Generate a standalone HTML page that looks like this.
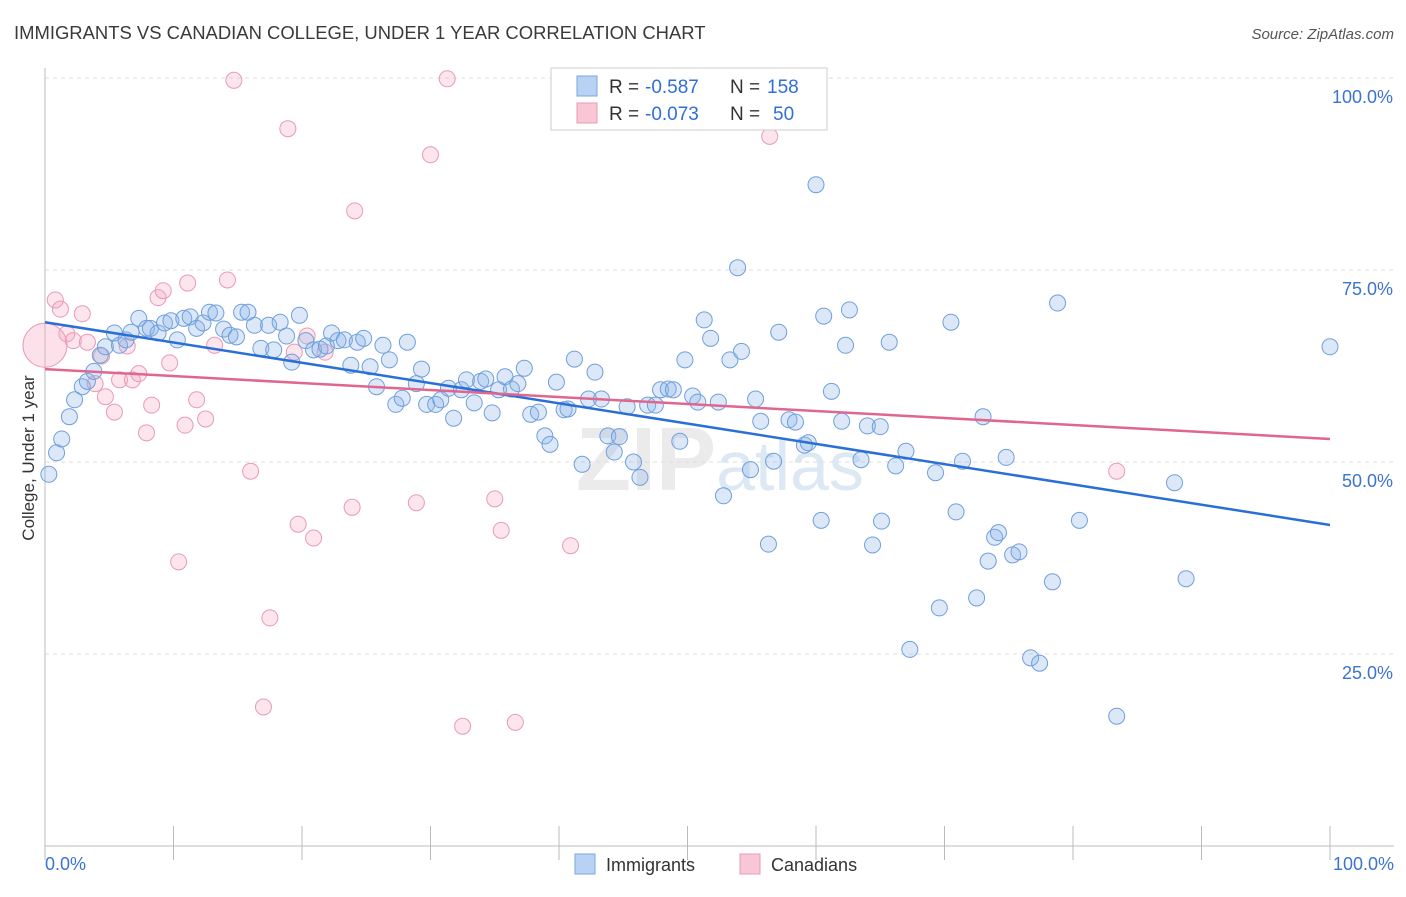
<!DOCTYPE html>
<html><head><meta charset="utf-8"><style>
body{margin:0;background:#fff;font-family:"Liberation Sans",sans-serif}
svg text{font-family:"Liberation Sans",sans-serif}
</style></head><body>
<svg id="c" width="1406" height="892">
<text x="14" y="39" font-size="18.45" fill="#3a3a3a">IMMIGRANTS VS CANADIAN COLLEGE, UNDER 1 YEAR CORRELATION CHART</text>
<text x="1394" y="39" font-size="15" fill="#555" text-anchor="end" font-style="italic">Source: ZipAtlas.com</text>
<text x="34" y="458" font-size="17" fill="#333" text-anchor="middle" transform="rotate(-90 34 458)">College, Under 1 year</text>
<text x="720" y="490" font-size="90" fill="#ebebeb" text-anchor="middle" font-weight="bold" font-family="Liberation Serif">ZIP<tspan fill="#dde8f5" font-family="Liberation Sans" font-weight="normal" font-size="70">atlas</tspan></text>
<g id="grid"></g><g id="pts"></g><g id="lines"></g>
<g>
<rect x="551" y="68" width="276" height="62" fill="#fff" stroke="#ccc"/>
<rect x="577" y="76" width="20" height="20" fill="#b9d2f3" stroke="#7aa6df"/>
<rect x="577" y="103" width="20" height="20" fill="#f9c6d6" stroke="#e99ab5"/>
<text x="609" y="93" font-size="19" fill="#333">R =</text>
<text x="645" y="93" font-size="19" fill="#2f6fd6">-0.587</text>
<text x="730" y="93" font-size="19" fill="#333">N =</text>
<text x="767" y="93" font-size="19" fill="#2f6fd6">158</text>
<text x="609" y="120" font-size="19" fill="#333">R =</text>
<text x="645" y="120" font-size="19" fill="#2f6fd6">-0.073</text>
<text x="730" y="120" font-size="19" fill="#333">N =</text>
<text x="773" y="120" font-size="19" fill="#2f6fd6">50</text>
</g>
<g>
<rect x="575" y="854" width="20" height="20" fill="#b9d2f3" stroke="#7aa6df"/>
<text x="606" y="871" font-size="18" fill="#333">Immigrants</text>
<rect x="740" y="854" width="20" height="20" fill="#f9c6d6" stroke="#e99ab5"/>
<text x="771" y="871" font-size="18" fill="#333">Canadians</text>
</g>
<text x="45" y="870" font-size="18" fill="#3b74d0">0.0%</text>
<text x="1394" y="870" font-size="18" fill="#3b74d0" text-anchor="end">100.0%</text>
</svg>
<script>
const yTicks=[100,75,50,25];
const yTickLabels=["100.0%","75.0%","50.0%","25.0%"];
const xTicks=[0,10,20,30,40,50,60,70,80,90,100];
const blueX=[0.3,0.9,1.3,1.9,2.3,2.9,3.3,3.8,4.3,4.7,5.4,5.8,6.3,6.7,7.3,7.9,8.2,8.8,9.3,9.8,10.3,10.8,11.3,11.8,12.3,12.8,13.3,13.9,14.4,14.9,15.3,15.8,16.3,16.8,17.4,17.8,18.3,18.8,19.2,19.8,20.3,20.9,21.4,21.9,22.3,22.8,23.3,23.8,24.3,24.8,25.3,25.8,26.3,26.8,27.3,27.8,28.2,28.9,29.3,29.7,30.4,30.8,31.4,31.8,32.4,32.8,33.4,33.9,34.3,34.8,35.3,35.8,36.3,36.8,37.3,37.8,38.4,38.9,39.3,39.8,40.4,40.7,41.2,41.8,42.3,42.8,43.3,43.8,44.3,44.7,45.3,45.8,46.3,46.9,47.5,47.9,48.5,48.9,49.4,49.8,50.4,50.8,51.3,51.8,52.4,52.8,53.3,53.9,54.2,54.9,55.3,55.7,56.3,56.7,57.1,57.9,58.4,59.1,59.4,60.0,60.4,60.6,61.2,62.0,62.3,62.6,63.5,64.0,64.4,65.0,65.1,65.7,66.2,67.0,67.3,69.3,69.6,70.5,70.9,71.4,72.5,73.0,73.4,73.9,74.2,74.8,75.3,75.8,76.7,77.4,78.4,78.8,80.5,83.4,87.9,88.8,100];
const blueY=[48.4,51.2,53.0,55.9,58.1,59.8,60.5,61.8,63.9,65.0,66.8,65.2,65.9,66.9,68.7,67.4,67.4,66.8,68.1,68.4,65.9,68.7,68.9,67.4,68.1,69.5,69.4,67.3,66.5,66.3,69.5,69.5,67.8,64.8,67.8,64.6,68.2,66.4,63.0,69.1,65.8,64.6,64.7,65.1,66.8,65.8,65.9,62.6,65.6,66.1,62.4,59.8,65.2,63.3,57.5,58.3,65.6,60.2,62.1,57.5,57.5,58.1,59.6,55.7,59.4,60.7,57.7,60.5,60.8,56.4,59.4,61.1,59.5,60.2,62.2,56.2,56.5,53.4,52.3,60.4,56.8,56.9,63.4,49.7,58.2,61.7,58.2,53.4,51.3,53.3,57.2,50.0,48.0,57.4,57.4,59.4,59.5,59.4,52.7,63.3,58.6,57.8,68.5,66.1,57.8,45.6,63.3,75.3,64.4,49.0,58.2,55.3,39.3,50.1,66.9,55.5,55.2,52.2,52.5,86.1,42.4,69.0,59.2,55.3,65.2,69.8,50.3,54.7,39.2,54.6,42.3,65.6,49.5,51.4,25.6,48.6,31.0,68.2,43.5,50.1,32.3,55.9,37.1,40.2,40.8,50.6,37.9,38.3,24.5,23.8,34.4,70.7,42.4,16.9,47.3,34.8,65.0];
const pinkX=[0.8,1.2,1.7,2.2,2.9,3.3,3.9,4.4,4.7,5.4,5.8,6.4,6.8,7.3,7.9,8.3,8.8,9.2,9.7,10.4,10.9,11.1,11.8,12.5,13.2,14.2,14.7,16.0,17.5,17.0,18.9,19.4,19.7,20.4,20.9,21.8,23.9,24.1,28.9,30.0,31.3,32.5,35.0,35.5,36.6,40.9,47.7,56.4,83.4];
const pinkY=[71.1,69.9,66.7,65.8,69.3,65.6,60.2,63.8,58.5,56.5,60.7,65.1,60.7,61.5,53.8,57.4,71.4,72.3,62.9,37.0,54.8,73.3,58.1,55.6,65.2,73.7,99.7,48.8,29.7,18.1,93.4,64.3,41.9,66.4,40.1,64.3,44.1,82.7,44.7,90.0,99.9,15.6,45.2,41.1,16.1,39.1,99.9,92.4,48.8];
const bigPink=[0,65.2];
const blueTrend=[68.2,41.8];
const pinkTrend=[62.1,53.0];
const NS="http://www.w3.org/2000/svg";
const xs=v=>45+v*12.85, ys=v=>846-v*7.68;
function mk(t,a,p){const e=document.createElementNS(NS,t);for(const k in a)e.setAttribute(k,a[k]);p.appendChild(e);return e;}
const g=document.getElementById('grid');
yTicks.forEach((t,i)=>{
 const l=mk('line',{x1:45,x2:1394,y1:ys(t),y2:ys(t),stroke:'#ddd','stroke-dasharray':'4,4'},g);
 
 
 const tx=mk('text',{x:1393,y:ys(t)+25,'font-size':18,fill:'#3b74d0','text-anchor':'end'},g);
 tx.textContent=yTickLabels[i];
 
 
});
const ax=mk('line',{x1:45,x2:1394,y1:846,y2:846,stroke:'#bbb'},g);


const ay=mk('line',{x1:45,x2:45,y1:68,y2:846,stroke:'#bbb'},g);


xTicks.forEach(t=>{const l=mk('line',{x1:xs(t),x2:xs(t),y1:826,y2:860,stroke:'#bbb'},g);
 
 });
const p=document.getElementById('pts');
pinkX.forEach((x,i)=>{const c=mk('circle',{cx:xs(x),cy:ys(pinkY[i]),r:8,fill:'rgba(245,170,195,0.3)',stroke:'#e99ab5','stroke-width':1},p);
 
 });
const bc=mk('circle',{cx:xs(bigPink[0]),cy:ys(bigPink[1]),r:22,fill:'rgba(245,170,195,0.35)',stroke:'#e99ab5'},p);


blueX.forEach((x,i)=>{const c=mk('circle',{cx:xs(x),cy:ys(blueY[i]),r:8,fill:'rgba(140,180,232,0.3)',stroke:'#6f9fdc','stroke-width':1},p);
 
 });
const L=document.getElementById('lines');
const bl=mk('line',{x1:xs(0),x2:xs(100),y1:ys(blueTrend[0]),y2:ys(blueTrend[1]),stroke:'#2a6fd6','stroke-width':2.5},L);


const pl=mk('line',{x1:xs(0),x2:xs(100),y1:ys(pinkTrend[0]),y2:ys(pinkTrend[1]),stroke:'#e0668f','stroke-width':2.5},L);


</script>
</body></html>
